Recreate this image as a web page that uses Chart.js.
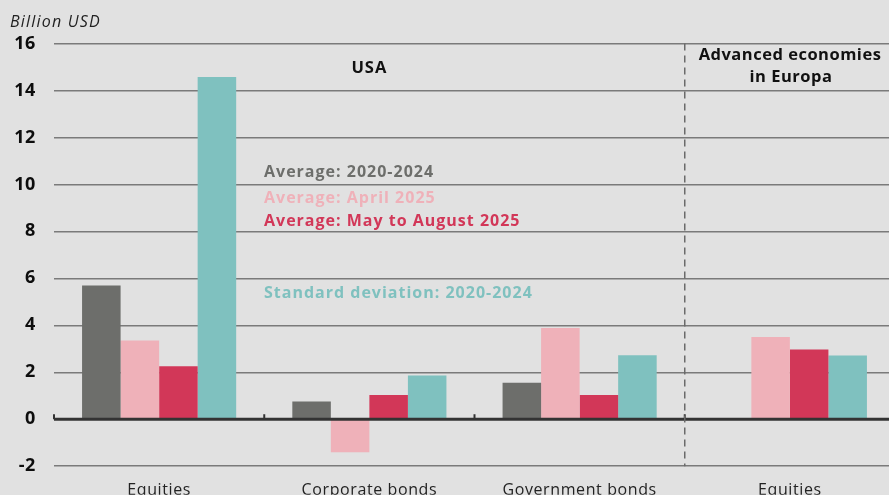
<!DOCTYPE html>
<html>
<head>
<meta charset="utf-8">
<script src="https://cdn.jsdelivr.net/npm/chart.js@4/dist/chart.umd.min.js"></script>
<style>
  html, body { margin: 0; padding: 0; background: #e1e1e1; overflow: hidden; }
  #wrap { width: 889px; height: 495px; position: relative; overflow: hidden; }
</style>
</head>
<body>
<div id="wrap"><canvas id="c" width="895" height="495"></canvas></div>
<script>
const categories = ['Equities', 'Corporate bonds', 'Government bonds', 'Equities'];
const seriesNames = ['Average: 2020-2024', 'Average: April 2025', 'Average: May to August 2025', 'Standard deviation: 2020-2024'];
const avg20202024 = [5.69, 0.76, 1.55, null];
const avgApril2025 = [3.35, -1.41, 3.88, 3.5];
const avgMayAug2025 = [2.26, 1.03, 1.03, 2.97];
const stdDev20202024 = [14.57, 1.86, 2.72, 2.71];
const yTicks = [-2, 0, 2, 4, 6, 8, 10, 12, 14, 16];
const colors = ['#6d6e6b', '#efb1b9', '#d23758', '#7fc1bf'];

const FONT = '"Open Sans", "Noto Sans", sans-serif';

const overlay = {
  id: 'overlay',
  beforeDraw(chart) {
    const ctx = chart.ctx;
    ctx.fillStyle = '#e1e1e1';
    ctx.fillRect(0, 0, chart.width, chart.height);
    ctx.letterSpacing = '0.6px';
  },
  afterDatasetsDraw(chart) {
    const ctx = chart.ctx;
    const x = chart.scales.x, y = chart.scales.y;
    const area = chart.chartArea;
    const catW = x.getPixelForValue(1) - x.getPixelForValue(0);
    const y0 = y.getPixelForValue(0);
    ctx.save();
    // zero line
    ctx.strokeStyle = '#333333';
    ctx.lineWidth = 3;
    ctx.beginPath();
    ctx.moveTo(area.left, y0);
    ctx.lineTo(area.right, y0);
    ctx.stroke();
    // small category ticks
    ctx.lineWidth = 2;
    for (let i = 0; i < categories.length; i++) {
      const bx = x.getPixelForValue(i) - catW / 2;
      ctx.beginPath();
      ctx.moveTo(bx, y0);
      ctx.lineTo(bx, y0 - 5);
      ctx.stroke();
    }
    // dashed separator
    const sx = x.getPixelForValue(3) - catW / 2;
    ctx.strokeStyle = '#6a6a6a';
    ctx.lineWidth = 1.5;
    ctx.setLineDash([7, 5]);
    ctx.beginPath();
    ctx.moveTo(sx, area.top);
    ctx.lineTo(sx, area.bottom);
    ctx.stroke();
    ctx.setLineDash([]);

    // texts
    ctx.textBaseline = 'alphabetic';
    ctx.fillStyle = '#222';
    ctx.letterSpacing = '1.2px';
    ctx.font = 'italic 16px ' + FONT;
    ctx.textAlign = 'left';
    ctx.fillText('Billion USD', 10, 27);

    ctx.fillStyle = '#111';
    ctx.letterSpacing = '1px';
    ctx.font = 'bold 16.5px ' + FONT;
    ctx.textAlign = 'center';
    ctx.fillText('USA', x.getPixelForValue(1), 73);
    ctx.letterSpacing = '0.5px';
    ctx.fillText('Advanced economies', 790, 60);
    ctx.fillText('in Europa', 791, 82);

    ctx.textAlign = 'left';
    ctx.font = 'bold 16px ' + FONT;
    ctx.letterSpacing = '1px';
    const lx = 264;
    const ly = [177, 203, 226, 298];
    for (let i = 0; i < seriesNames.length; i++) {
      ctx.fillStyle = colors[i];
      ctx.fillText(seriesNames[i], lx, ly[i]);
    }
    ctx.restore();
  }
};

new Chart(document.getElementById('c'), {
  type: 'bar',
  data: {
    labels: categories,
    datasets: [
      { label: seriesNames[0], data: avg20202024, backgroundColor: colors[0] },
      { label: seriesNames[1], data: avgApril2025, backgroundColor: colors[1] },
      { label: seriesNames[2], data: avgMayAug2025, backgroundColor: colors[2] },
      { label: seriesNames[3], data: stdDev20202024, backgroundColor: colors[3] }
    ]
  },
  options: {
    responsive: false,
    animation: false,
    devicePixelRatio: 1,
    layout: { padding: { top: 43.5, right: 0, left: -1, bottom: 0 } },
    datasets: { bar: { categoryPercentage: 0.733, barPercentage: 1, borderWidth: 0 } },
    plugins: { legend: { display: false }, tooltip: { enabled: false } },
    scales: {
      x: {
        grid: { display: false, drawTicks: false },
        border: { display: false },
        ticks: { color: '#222', font: { family: FONT, size: 16 }, padding: 15, maxRotation: 0 },
        afterFit(s) { s.height = 28.5; }
      },
      y: {
        min: -2, max: 16,
        afterBuildTicks(s) { s.ticks = yTicks.map(v => ({ value: v })); },
        grid: { color: '#7a7a7a', lineWidth: 1.5, drawTicks: false },
        border: { display: false },
        ticks: { color: '#0d0d0d', font: { family: FONT, size: 18, weight: 'bold' }, padding: 18 },
        afterFit(s) { s.width = 55; }
      }
    }
  },
  plugins: [overlay]
});
</script>
</body>
</html>
